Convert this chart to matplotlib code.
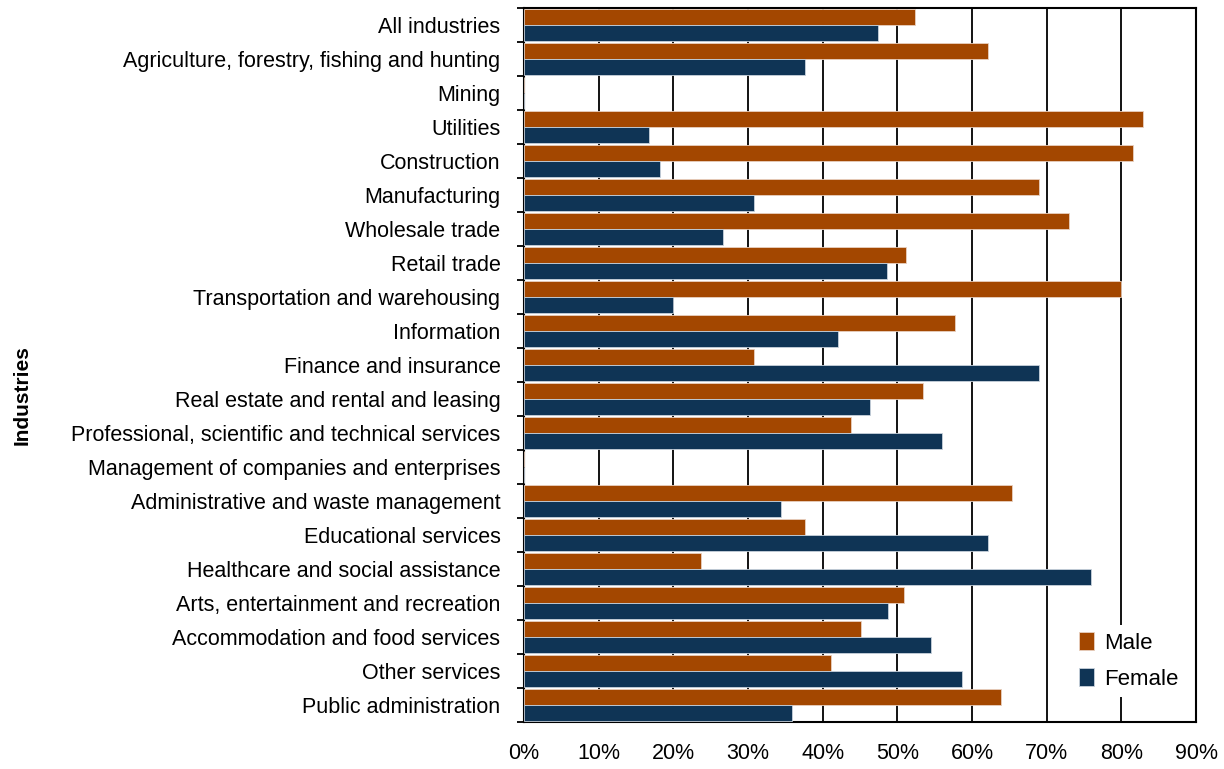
import matplotlib
matplotlib.use('Agg')
import matplotlib.pyplot as plt
import numpy as np

plt.rcParams['font.family'] = ['Liberation Sans', 'DejaVu Sans']

# data (share of workers, %)
industries = ['All industries', 'Agriculture, forestry, fishing and hunting', 'Mining',
              'Utilities', 'Construction', 'Manufacturing', 'Wholesale trade', 'Retail trade',
              'Transportation and warehousing', 'Information', 'Finance and insurance',
              'Real estate and rental and leasing', 'Professional, scientific and technical services',
              'Management of companies and enterprises', 'Administrative and waste management',
              'Educational services', 'Healthcare and social assistance',
              'Arts, entertainment and recreation', 'Accommodation and food services',
              'Other services', 'Public administration']
male = [52.4, 62.1, 0, 82.9, 81.6, 69.0, 73.0, 51.2, 80.0, 57.7, 30.8, 53.4, 43.8, 0,
        65.4, 37.7, 23.7, 50.9, 45.2, 41.1, 63.9]
female = [47.4, 37.7, 0, 16.7, 18.2, 30.8, 26.7, 48.6, 19.9, 42.1, 69.0, 46.3, 56.0, 0,
          34.4, 62.1, 76.0, 48.8, 54.5, 58.6, 35.9]

male_c = '#A34700'
female_c = '#0F3455'

fig = plt.figure(figsize=(12.24, 7.69), dpi=100)
ax = fig.add_axes([524/1224, 1-722/769, 672/1224, 714/769])

y = np.arange(len(industries))
h = 0.47
ax.barh(y - h/2, male, height=h, color=male_c, edgecolor='#E8D0C0', linewidth=0.6, label='Male', zorder=3)
ax.barh(y + h/2, female, height=h, color=female_c, edgecolor='#C8D2DC', linewidth=0.6, label='Female', zorder=3)

ax.set_xlim(0, 90)
ax.set_ylim(len(industries) - 0.5, -0.5)
ax.set_xticks(np.arange(0, 91, 10))
ax.set_xticklabels([f'{v}%' for v in range(0, 91, 10)], fontsize=15.5)
ax.tick_params(axis='x', length=0, pad=15)
ax.grid(axis='x', color='black', linewidth=1.3, zorder=0)

ax.set_yticks(y)
ax.set_yticklabels(industries, fontsize=15.5)
ax.tick_params(axis='y', which='major', length=0, pad=17)
ax.set_yticks(np.arange(-0.5, len(industries)), minor=True)
ax.tick_params(axis='y', which='minor', length=5, width=1.3, direction='out')

for s in ax.spines.values():
    s.set_linewidth(1.5)
    s.set_color('black')

fig.text(22/1224, 1-395/769, 'Industries', rotation=90, fontsize=15, fontweight='bold',
         ha='center', va='center')

leg = ax.legend(loc='lower right', bbox_to_anchor=(1.0, 0.02), frameon=True, fontsize=16,
                handlelength=0.65, handleheight=0.9, handletextpad=0.45, borderpad=0.3,
                labelspacing=0.65)
leg.get_frame().set_edgecolor('none')
leg.get_frame().set_facecolor('white')
leg.get_frame().set_alpha(1)

fig.savefig('out.png', dpi=100)
